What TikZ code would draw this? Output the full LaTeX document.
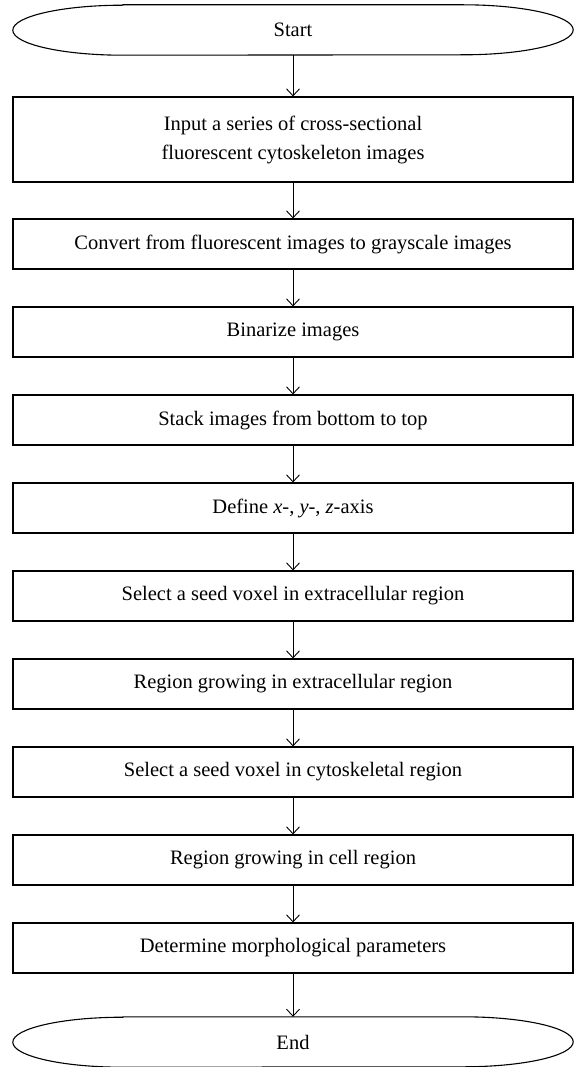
\documentclass[tikz,border=0pt]{standalone}
\usepackage{fontspec}
\setmainfont{Liberation Serif}
\usetikzlibrary{arrows.meta}

\tikzset{
  stepbox/.style={draw, line width=1.1pt, minimum width=560pt, minimum height=50pt, inner sep=0pt, align=center},
  termbox/.style={minimum width=560pt, minimum height=50pt, inner sep=0pt},
  flow/.style={line width=0.9pt, -{Straight Barb[length=7pt,width=13pt,line width=0.9pt]}}
}
% terminal outline round a node
\newcommand{\terminal}[1]{%
  \draw[line width=1.1pt] ([xshift=110pt]#1.north west) -- ([xshift=-110pt]#1.north east)
    arc[start angle=90, end angle=-90, x radius=110pt, y radius=25pt]
    -- ([xshift=110pt]#1.south west)
    arc[start angle=270, end angle=90, x radius=110pt, y radius=25pt] -- cycle;}

\begin{document}
\begin{tikzpicture}[x=1pt, y=-1pt, font=\fontsize{20.5}{29}\selectfont]
\useasboundingbox (0,0) rectangle (576,1067);
\node[termbox] (start) at (293,30) {Start};
\terminal{start}
\node[stepbox, minimum height=85pt] (input) at (293,139.5) {Input a series of cross-sectional\\fluorescent cytoskeleton images};
\node[stepbox] (convert) at (293,244) {Convert from fluorescent images to grayscale images};
\node[stepbox] (binarize) at (293,332) {Binarize images};
\node[stepbox] (stack) at (293,420) {Stack images from bottom to top};
\node[stepbox] (axis) at (293,508) {Define \textit{x}-, \textit{y}-, \textit{z}-axis};
\node[stepbox] (seedext) at (293,596) {Select a seed voxel in extracellular region};
\node[stepbox] (growext) at (293,684) {Region growing in extracellular region};
\node[stepbox] (seedcyto) at (293,772) {Select a seed voxel in cytoskeletal region};
\node[stepbox] (growcell) at (293,860) {Region growing in cell region};
\node[stepbox] (morph) at (293,948) {Determine morphological parameters};
\node[termbox] (end) at (293,1042) {End};
\terminal{end}
\draw[flow] (start) -- (input);
\draw[flow] (input) -- (convert);
\draw[flow] (convert) -- (binarize);
\draw[flow] (binarize) -- (stack);
\draw[flow] (stack) -- (axis);
\draw[flow] (axis) -- (seedext);
\draw[flow] (seedext) -- (growext);
\draw[flow] (growext) -- (seedcyto);
\draw[flow] (seedcyto) -- (growcell);
\draw[flow] (growcell) -- (morph);
\draw[flow] (morph) -- (end);
\end{tikzpicture}
\end{document}
